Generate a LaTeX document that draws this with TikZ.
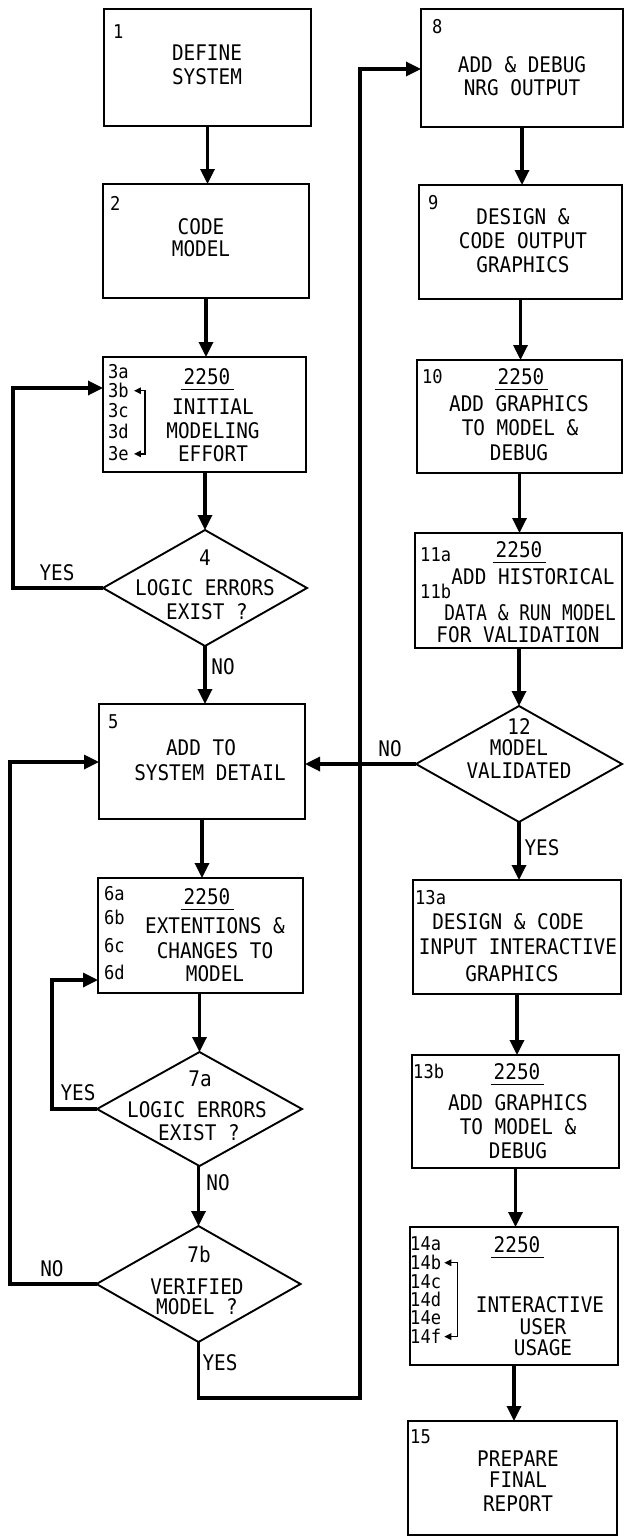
\documentclass[tikz,border=0pt]{standalone}
\usepackage{fontspec}
\newfontfamily\tw[FakeStretch=0.9]{DejaVu Sans Mono}
\usetikzlibrary{shapes.geometric,arrows.meta}
\newcommand\MyT[4]{\node[txt] (#1) at (#2,#3+7.8) {#4};}
\newcommand\MyL[4]{\node[lab] (#1) at (#2,#3+6.8) {#4};}
\begin{document}
\begin{tikzpicture}[x=1pt,y=-1pt,
  box/.style={draw, line width=2.3pt, rectangle, inner sep=0pt, outer sep=0pt},
  dia/.style={draw, line width=1.9pt, diamond, inner sep=0pt, outer sep=0pt},
  arr/.style={line width=3.3pt, -{Triangle[length=15pt,width=14pt]}},
  txt/.style={inner sep=0pt, font=\tw\fontsize{21.5}{24}\selectfont, anchor=base},
  lab/.style={inner sep=0pt, font=\tw\fontsize{19}{21}\selectfont, anchor=base west},
  ul/.style={line width=1.4pt},
  brk/.style={line width=1.4pt, {Triangle[length=7pt,width=6.5pt]}-{Triangle[length=7pt,width=6.5pt]}},
]
\useasboundingbox (0,0) rectangle (624,1536);
\fill[white] (0,0) rectangle (624,1536);

% ---------- left column ----------
\node[box, minimum width=207pt, minimum height=117pt] (b1) at (207.5,67.5) {};
\node[box, minimum width=206pt, minimum height=114pt] (b2) at (206,241) {};
\node[box, minimum width=203pt, minimum height=115pt] (b3) at (204.5,414.5) {};
\node[dia, minimum width=204pt, minimum height=116pt] (d4) at (205,588) {};
\node[box, minimum width=206pt, minimum height=115pt] (b5) at (202,761.5) {};
\node[box, minimum width=205pt, minimum height=115pt] (b6) at (200.5,935.5) {};
\node[dia, minimum width=205pt, minimum height=114pt] (d7a) at (199.5,1109) {};
\node[dia, minimum width=204pt, minimum height=116pt] (d7b) at (198.5,1284) {};

% ---------- right column ----------
\node[box, minimum width=202pt, minimum height=118pt] (b8) at (522,68) {};
\node[box, minimum width=203pt, minimum height=114pt] (b9) at (520.5,242) {};
\node[box, minimum width=205pt, minimum height=113pt] (b10) at (519.5,416.5) {};
\node[box, minimum width=207pt, minimum height=115pt] (b11) at (518.5,590.5) {};
\node[dia, minimum width=206pt, minimum height=116pt] (d12) at (519,764) {};
\node[box, minimum width=208pt, minimum height=114pt] (b13a) at (517,937) {};
\node[box, minimum width=207pt, minimum height=113pt] (b13b) at (515.5,1111.5) {};
\node[box, minimum width=208pt, minimum height=138pt] (b14) at (514,1296) {};
\node[box, minimum width=209pt, minimum height=114pt] (b15) at (512.5,1478) {};

% ---------- texts: box 1 ----------
\MyL{n1}{113}{32}{1}
\MyT{t1a}{207}{53}{DEFINE}
\MyT{t1b}{207}{77}{SYSTEM}
% box 2
\MyL{n2}{110}{204}{2}
\MyT{t2a}{201}{227}{CODE}
\MyT{t2b}{201}{249}{MODEL}
% box 3
\MyL{l3a}{108}{372}{3a}
\MyL{l3b}{108}{391}{3b}
\MyL{l3c}{108}{411}{3c}
\MyL{l3d}{108}{432}{3d}
\MyL{l3e}{108}{454}{3e}
\MyT{u3}{207}{377}{2250}
\MyT{t3a}{213}{407}{INITIAL}
\MyT{t3b}{213}{431}{MODELING}
\MyT{t3c}{213}{454}{EFFORT}
% diamond 4
\MyT{t4n}{205}{558}{4}
\MyT{t4a}{205}{588}{LOGIC ERRORS}
\MyT{t4b}{207}{612}{EXIST ?}
% box 5
\MyL{n5}{108}{722}{5}
\MyT{t5a}{201}{748}{ADD TO}
\MyT{t5b}{210}{773}{SYSTEM DETAIL}
% box 6
\MyL{l6a}{104}{894}{6a}
\MyL{l6b}{104}{918}{6b}
\MyL{l6c}{104}{946}{6c}
\MyL{l6d}{104}{973}{6d}
\MyT{u6}{207}{897}{2250}
\MyT{t6a}{215}{926}{EXTENTIONS \&}
\MyT{t6b}{215}{951}{CHANGES TO}
\MyT{t6c}{215}{974}{MODEL}
% diamond 7a
\MyT{t7an}{200}{1079}{7a}
\MyT{t7aa}{197}{1110}{LOGIC ERRORS}
\MyT{t7ab}{199}{1133}{EXIST ?}
% diamond 7b
\MyT{t7bn}{199}{1255}{7b}
\MyT{t7ba}{197}{1287}{VERIFIED}
\MyT{t7bb}{197}{1307}{MODEL ?}
% box 8
\MyL{n8}{432}{27}{8}
\MyT{t8a}{522}{65}{ADD \& DEBUG}
\MyT{t8b}{522}{88}{NRG OUTPUT}
% box 9
\MyL{n9}{428}{203}{9}
\MyT{t9a}{523}{217}{DESIGN \&}
\MyT{t9b}{523}{241}{CODE OUTPUT}
\MyT{t9c}{523}{265}{GRAPHICS}
% box 10
\MyL{n10}{422}{377}{10}
\MyT{u10}{521}{377}{2250}
\MyT{t10a}{519}{404}{ADD GRAPHICS}
\MyT{t10b}{520}{428}{TO MODEL \&}
\MyT{t10c}{519}{453}{DEBUG}
% box 11
\MyL{n11a}{420}{555}{11a}
\MyL{n11b}{420}{592}{11b}
\MyT{u11}{519}{550}{2250}
\MyT{t11a}{533}{577}{ADD HISTORICAL}
\MyT{t11b}{530}{613}{\scalebox{0.92}[1]{DATA \& RUN MODEL}}
\MyT{t11c}{518}{635}{FOR VALIDATION}
% diamond 12
\MyT{t12n}{519}{727}{12}
\MyT{t12a}{519}{748}{MODEL}
\MyT{t12b}{519}{771}{VALIDATED}
% box 13a
\MyL{n13a}{415}{898}{13a}
\MyT{t13aa}{508}{922}{DESIGN \& CODE}
\MyT{t13ab}{518}{947}{INPUT INTERACTIVE}
\MyT{t13ac}{512}{974}{GRAPHICS}
% box 13b
\MyL{n13b}{413}{1072}{13b}
\MyT{u13}{517}{1072}{2250}
\MyT{t13ba}{518}{1103}{ADD GRAPHICS}
\MyT{t13bb}{518}{1127}{TO MODEL \&}
\MyT{t13bc}{518}{1151}{DEBUG}
% box 14
\MyL{l14a}{410}{1244}{14a}
\MyL{l14b}{410}{1263}{14b}
\MyL{l14c}{410}{1282}{14c}
\MyL{l14d}{410}{1300}{14d}
\MyL{l14e}{410}{1318}{14e}
\MyL{l14f}{410}{1337}{14f}
\MyT{u14}{517}{1245}{2250}
\MyT{t14a}{540}{1305}{INTERACTIVE}
\MyT{t14b}{543}{1327}{USER}
\MyT{t14c}{543}{1348}{USAGE}
% box 15
\MyL{n15}{410}{1437}{15}
\MyT{t15a}{518}{1459}{PREPARE}
\MyT{t15b}{518}{1480}{FINAL}
\MyT{t15c}{518}{1504}{REPORT}

% ---------- branch labels ----------
\MyT{y4}{57}{573}{YES}
\MyT{n4}{223}{667}{NO}
\MyT{y7a}{78}{1093}{YES}
\MyT{n7a}{218}{1183}{NO}
\MyT{n7b}{52}{1269}{NO}
\MyT{y7b}{220}{1363}{YES}
\MyT{n12}{390}{749}{NO}
\MyT{y12}{542}{848}{YES}

% ---------- underlines ----------
\foreach \u in {u3,u6,u10,u11,u13,u14}
  \draw[ul] ([shift={(-3,4.5)}]\u.base west) -- ([shift={(3,4.5)}]\u.base east);

% ---------- small bracket arrows ----------
\draw[brk] ([xshift=5pt]l3b.east) -- ++(11,0) |- ([xshift=5pt]l3e.east);
\draw[brk] ([xshift=3pt]l14b.east) -- ++(13,0) |- ([xshift=3pt]l14f.east);

% ---------- main flow ----------
\draw[arr] (b1.south) -- (b1.south |- b2.north);
\draw[arr] (b2.south) -- (b2.south |- b3.north);
\draw[arr] (d4.north |- b3.south) -- (d4.north);
\draw[arr] (d4.south) -- (d4.south |- b5.north);
\draw[arr] (b5.south) -- (b5.south |- b6.north);
\draw[arr] (d7a.north |- b6.south) -- (d7a.north);
\draw[arr] (d7b.north |- d7a.south) -- (d7b.north);

\draw[arr] (b8.south) -- (b8.south |- b9.north);
\draw[arr] (b9.south) -- (b9.south |- b10.north);
\draw[arr] (b10.south) -- (b10.south |- b11.north);
\draw[arr] (d12.north |- b11.south) -- (d12.north);
\draw[arr] (d12.south) -- (d12.south |- b13a.north);
\draw[arr] (b13a.south) -- (b13a.south |- b13b.north);
\draw[arr] (b13b.south) -- (b13b.south |- b14.north);
\draw[arr] (b14.south) -- (b14.south |- b15.north);

% ---------- loops ----------
\coordinate (k4) at (13,388);
\draw[arr] (d4.west) -| (k4) -- (k4 -| b3.west);
\coordinate (k7a) at (52,980);
\draw[arr] (d7a.west) -| (k7a) -- (k7a -| b6.west);
\coordinate (k7b) at (10,762);
\draw[arr] (d7b.west) -| (k7b) -- (k7b -| b5.west);
\draw[arr] (d12.west) -- (d12.west -| b5.east);
\coordinate (k8a) at (360,1398);
\coordinate (k8b) at (360,69);
\draw[arr] (d7b.south) |- (k8a) -- (k8b) -- (k8b -| b8.west);
\end{tikzpicture}
\end{document}
